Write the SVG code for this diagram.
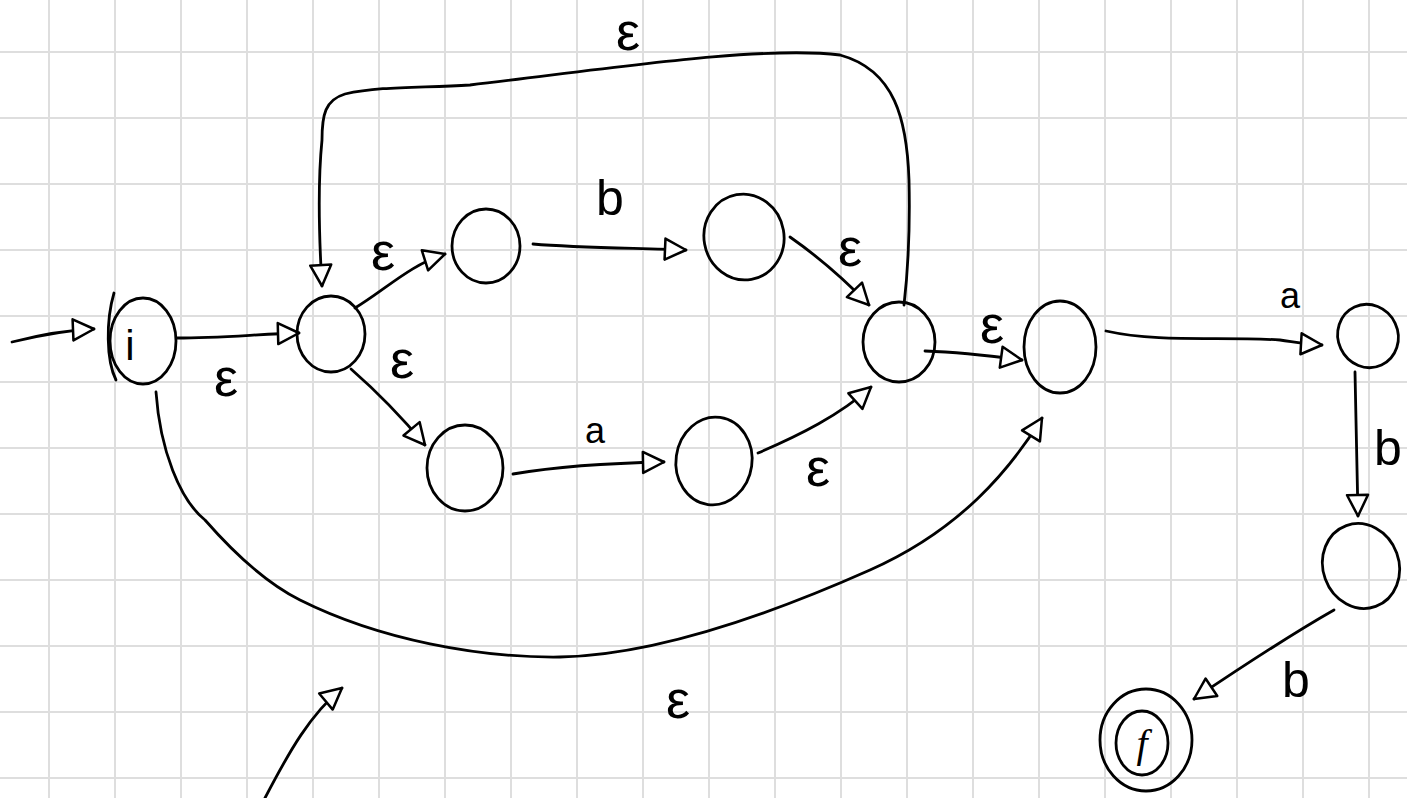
<svg xmlns="http://www.w3.org/2000/svg" width="1407" height="798" viewBox="0 0 1407 798">
<style>
.st{fill:none;stroke:#000;stroke-width:2.8;stroke-linecap:round;stroke-linejoin:round}
.nd{fill:none;stroke:#000;stroke-width:2.8}
.ed{fill:none;stroke:#000;stroke-width:2.8;stroke-linecap:round;marker-end:url(#ah)}
.lb{font-family:"Liberation Sans","DejaVu Sans",sans-serif;fill:#000;text-anchor:middle}
.eps{font-size:54px}
.let{font-size:50px}
.a{font-size:36px}
.g{stroke:#dedede;stroke-width:2;fill:none}
</style>
<defs>
<marker id="ah" viewBox="0 0 12 12" refX="11" refY="6" markerWidth="9" markerHeight="9" orient="auto" markerUnits="strokeWidth">
<path d="M1,1 L11,6 L1,11 Z" fill="#fff" stroke="#000" stroke-width="1.2" stroke-linejoin="round"/>
</marker>
<pattern id="grid" x="48" y="51" width="66" height="66" patternUnits="userSpaceOnUse">
<path class="g" d="M1,0 V66 M0,1 H66"/>
</pattern>
</defs>
<rect width="1407" height="798" fill="#fff"/>
<rect width="1407" height="798" fill="url(#grid)"/>

<g id="connectors">
<path class="ed" d="M12,342 C40,335 70,330 94,329"/>
<path class="ed" d="M177,338 C220,338 260,334 299,333"/>
<path class="ed" d="M355,308 C385,290 410,265 445,254"/>
<path class="ed" d="M351,369 C375,390 400,415 425,445"/>
<path class="ed" d="M533,244 C580,248 640,248 686,250"/>
<path class="ed" d="M513,474 C560,466 610,463 664,462"/>
<path class="ed" d="M790,237 C820,258 845,280 869,305"/>
<path class="ed" d="M758,453 C800,435 840,415 871,387"/>
<path class="ed" d="M904,305 C908,270 910,220 909,180 C907,120 895,70 840,55 C760,45 600,70 470,85 C420,88 380,86 345,94 C325,100 322,115 322,140 C318,180 318,220 322,286"/>
<path class="ed" d="M925,351 C955,352 985,355 1022,360"/>
<path class="ed" d="M156,392 C160,450 180,500 205,520 C240,560 270,585 300,600 C380,640 480,658 560,657 C660,655 780,610 870,570 C960,530 1010,470 1042,418"/>
<path class="ed" d="M1106,331 C1160,343 1220,336 1280,340 C1295,342 1305,344 1322,345"/>
<path class="ed" d="M1355,372 C1356,420 1357,470 1358,516"/>
<path class="ed" d="M1334,610 C1290,635 1240,668 1194,699"/>
<path class="ed" d="M265,798 C290,750 310,715 342,688"/>
</g>

<g id="labels">
<text class="lb eps" x="628" y="50">ε</text>
<text class="lb let" x="610" y="215">b</text>
<text class="lb eps" x="383" y="270">ε</text>
<text class="lb eps" x="850" y="266">ε</text>
<text class="lb eps" x="402" y="378">ε</text>
<text class="lb eps" x="226" y="396">ε</text>
<text class="lb eps" x="992" y="343">ε</text>
<text class="lb a" x="595" y="443">a</text>
<text class="lb eps" x="818" y="486">ε</text>
<text class="lb a" x="1290" y="308">a</text>
<text class="lb let" x="1388" y="465">b</text>
<text class="lb let" x="1296" y="697">b</text>
<text class="lb eps" x="678" y="718">ε</text>
</g>

<g id="node-i">
<ellipse class="nd" cx="143" cy="341" rx="33" ry="43"/>
<path class="st" d="M114,293 C106,320 106,360 116,380"/>
<text class="lb" x="130" y="360" style="font-size:42px">i</text>
</g>
<g id="node-q1"><ellipse class="nd" cx="331" cy="334" rx="34" ry="38"/></g>
<g id="node-q2"><ellipse class="nd" cx="486" cy="246" rx="34" ry="37"/></g>
<g id="node-q3"><ellipse class="nd" cx="744" cy="237" rx="40" ry="43" transform="rotate(-10 744 237)"/></g>
<g id="node-q4"><ellipse class="nd" cx="465" cy="468" rx="38" ry="43"/></g>
<g id="node-q5"><ellipse class="nd" cx="714" cy="461" rx="38" ry="44" transform="rotate(8 714 461)"/></g>
<g id="node-q6"><ellipse class="nd" cx="899" cy="342" rx="36" ry="40"/></g>
<g id="node-q7"><ellipse class="nd" cx="1060" cy="347" rx="36" ry="46"/></g>
<g id="node-q8"><ellipse class="nd" cx="1368" cy="336" rx="30" ry="32" transform="rotate(-25 1368 336)"/></g>
<g id="node-q9"><ellipse class="nd" cx="1361" cy="566" rx="38" ry="43" transform="rotate(-20 1361 566)"/></g>
<g id="node-f">
<ellipse class="nd" cx="1146" cy="740" rx="46" ry="51"/>
<ellipse class="nd" cx="1142" cy="743" rx="26" ry="32"/>
<text class="lb" x="1142" y="757" style="font-size:40px;font-family:'Liberation Serif',serif;font-style:italic">f</text>
</g>
</svg>
